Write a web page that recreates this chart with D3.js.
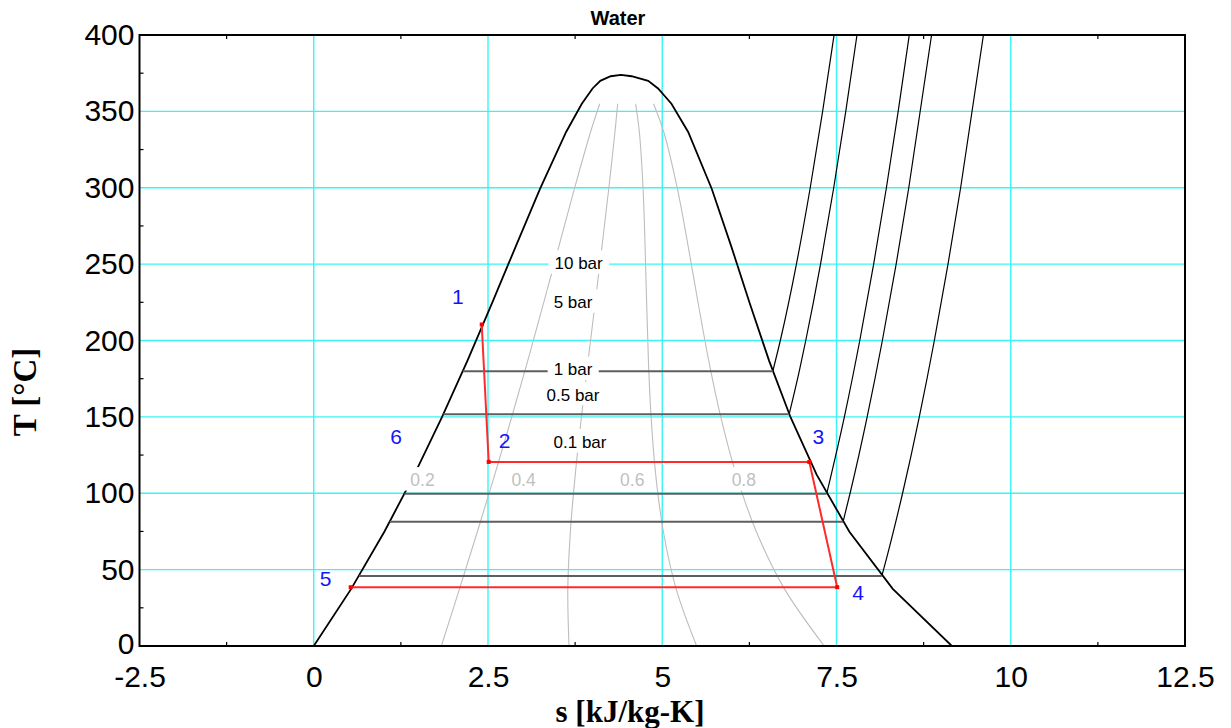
<!DOCTYPE html>
<html>
<head>
<meta charset="utf-8">
<script src="https://cdn.jsdelivr.net/npm/d3@7"></script>
<style>
  body { margin: 0; background: #fff; }
  svg { display: block; }
</style>
</head>
<body>
<svg id="chart" width="1231" height="728"></svg>
<script>
// ---- Saturation dome of water (T in °C, s in kJ/kg-K) ----
const satT  = [0.01, 37.4, 74.8, 112.2, 149.6, 187, 224.4, 261.8, 299.2, 336.5, 355, 365, 370, 373, 373.95];
const satSf = [0, 0.537, 1.013, 1.443, 1.838, 2.207, 2.558, 2.900, 3.246, 3.621, 3.846, 4.00, 4.111, 4.26, 4.407];
const satSg = [9.155, 8.307, 7.685, 7.215, 6.842, 6.531, 6.255, 5.989, 5.711, 5.372, 5.132, 4.94, 4.798, 4.56, 4.407];

// ---- Constant-pressure lines ----
const isobarNames = ["10 bar", "5 bar", "1 bar", "0.5 bar", "0.1 bar"];
const isobarTsat  = [179.9, 151.8, 99.6, 81.3, 45.8];
const isobarSf    = [2.139, 1.861, 1.303, 1.091, 0.649];
// superheated branches: temperatures and entropies from saturated vapour upward
const sh10barT  = [179.9, 200, 250, 300, 350, 400];
const sh10barS  = [6.586, 6.694, 6.925, 7.123, 7.301, 7.465];
const sh5barT   = [151.8, 180, 200, 250, 300, 350, 400];
const sh5barS   = [6.821, 6.966, 7.059, 7.271, 7.460, 7.633, 7.794];
const sh1barT   = [99.6, 150, 200, 250, 300, 350, 400];
const sh1barS   = [7.359, 7.613, 7.834, 8.033, 8.216, 8.385, 8.544];
const sh05barT  = [81.3, 100, 150, 200, 250, 300, 400];
const sh05barS  = [7.594, 7.695, 7.940, 8.158, 8.356, 8.537, 8.864];
const sh01barT  = [45.8, 50, 100, 150, 200, 250, 300, 400];
const sh01barS  = [8.150, 8.175, 8.448, 8.688, 8.904, 9.100, 9.281, 9.608];

// ---- Quality lines ----
const qualities = [0.2, 0.4, 0.6, 0.8];
const qualityTopT = 355;

// ---- Cycle state points ----
const cycleLabels = ["1", "2", "3", "4", "5"];
const cycleS = [2.41, 2.51, 7.11, 7.51, 0.53];
const cycleT = [210.5, 120.5, 120.5, 38.5, 38.5];

// ---- Axis ticks ----
const sTicks = [-2.5, 0, 2.5, 5, 7.5, 10, 12.5];
const sMinor = [-1.25, 1.25, 3.75, 6.25, 8.75, 11.25];
const tTicks = [0, 50, 100, 150, 200, 250, 300, 350, 400];
const tMinor = [25, 75, 125, 175, 225, 275, 325, 375];

// ---------------------------------------------------------------
const svg = d3.select("#chart");
const L = 139.5, R = 1185, T = 35, B = 646;
const x = d3.scaleLinear().domain([-2.5, 12.5]).range([L, R]);
const y = d3.scaleLinear().domain([0, 400]).range([B, T]);

const sans = "'Liberation Sans', Arial, sans-serif";
const serif = "'Liberation Serif', 'Times New Roman', serif";

svg.append("defs").append("clipPath").attr("id", "plotclip")
  .append("rect").attr("x", L).attr("y", T).attr("width", R - L).attr("height", B - T);

// grid
const grid = svg.append("g").attr("stroke", "#3af4f4").attr("stroke-width", 1.4);
grid.selectAll("line.v").data(sTicks.filter(v => v > -2.5 && v < 12.5)).join("line")
  .attr("x1", d => x(d)).attr("x2", d => x(d)).attr("y1", T).attr("y2", B);
grid.selectAll("line.h").data(tTicks.filter(v => v > 0 && v < 400)).join("line")
  .attr("class", "h")
  .attr("x1", L).attr("x2", R).attr("y1", d => y(d)).attr("y2", d => y(d));

const plot = svg.append("g").attr("clip-path", "url(#plotclip)");

// quality lines (lever rule on the saturation table)
const qIdx = satT.map((t, i) => i).filter(i => satT[i] <= qualityTopT);
const qualLine = d3.line().x(d => x(d[0])).y(d => y(d[1])).curve(d3.curveCatmullRom);
qualities.forEach(q => {
  const pts = qIdx.map(i => [satSf[i] + q * (satSg[i] - satSf[i]), satT[i]]);
  plot.append("path").attr("d", qualLine(pts))
    .attr("fill", "none").attr("stroke", "#bdbdbd").attr("stroke-width", 1.1);
});

// saturation dome
const domePts = satT.map((t, i) => [satSf[i], t])
  .concat(satT.map((t, i) => [satSg[i], t]).reverse());
plot.append("path")
  .attr("d", d3.line().x(d => x(d[0])).y(d => y(d[1]))(domePts))
  .attr("fill", "none").attr("stroke", "#000").attr("stroke-width", 1.8);

// superheated isobars
const shLine = d3.line().x(d => x(d[0])).y(d => y(d[1])).curve(d3.curveMonotoneX);
[[sh10barS, sh10barT], [sh5barS, sh5barT], [sh1barS, sh1barT], [sh05barS, sh05barT], [sh01barS, sh01barT]]
  .forEach(([ss, tt]) => {
    plot.append("path").attr("d", shLine(ss.map((s, i) => [s, tt[i]])))
      .attr("fill", "none").attr("stroke", "#000").attr("stroke-width", 1.2);
  });

// labels with white boxes
function boxedLabel(cx, cy, text, color, size) {
  const g = svg.append("g");
  const t = g.append("text").attr("x", cx).attr("y", cy).attr("dy", "0.35em")
    .attr("text-anchor", "middle").attr("font-family", sans).attr("font-size", size)
    .attr("fill", color).text(text);
  const bb = t.node().getBBox();
  g.insert("rect", "text").attr("x", bb.x - 6).attr("y", cy - 13)
    .attr("width", bb.width + 12).attr("height", 23.5).attr("fill", "#fff");
}
// quality labels
const qualityLabelS = [1.56, 3.01, 4.57, 6.17];
qualities.forEach((q, i) => boxedLabel(x(qualityLabelS[i]), y(108.6), String(q), "#bfbfbf", 17.5));

// isobars inside the dome (drawn over the quality label boxes)
const isoSg = [sh10barS[0], sh5barS[0], sh1barS[0], sh05barS[0], sh01barS[0]];
isobarTsat.forEach((t, i) => {
  svg.append("line")
    .attr("x1", x(isobarSf[i])).attr("x2", x(isoSg[i]))
    .attr("y1", y(t)).attr("y2", y(t))
    .attr("stroke", "#5e5e5e").attr("stroke-width", 2);
});

// pressure labels: [s, T] anchors
const isobarLabelAt = [[3.8, 250.5], [3.72, 225], [3.72, 181], [3.72, 164.5], [3.82, 133.5]];
isobarNames.forEach((n, i) => boxedLabel(x(isobarLabelAt[i][0]), y(isobarLabelAt[i][1]), n, "#000", 17));

// cycle
const cyc = cycleS.map((s, i) => [s, cycleT[i]]);
svg.append("path").attr("d", d3.line().x(d => x(d[0])).y(d => y(d[1]))(cyc))
  .attr("fill", "none").attr("stroke", "#ff2b2b").attr("stroke-width", 2);
svg.selectAll("rect.pt").data(cyc).join("rect").attr("class", "pt")
  .attr("x", d => x(d[0]) - 2).attr("y", d => y(d[1]) - 2)
  .attr("width", 4).attr("height", 4).attr("fill", "#ff0000");

// state numbers (pixel offsets from each point)
const numOffsets = [[-24, -28], [16, -21], [9, -25], [21, 5], [-25, -9]];
cycleLabels.forEach((lab, i) => {
  svg.append("text").attr("x", x(cycleS[i]) + numOffsets[i][0]).attr("y", y(cycleT[i]) + numOffsets[i][1])
    .attr("dy", "0.35em").attr("text-anchor", "middle")
    .attr("font-family", sans).attr("font-size", 21).attr("fill", "#1414ff").text(lab);
});
svg.append("text").attr("x", x(1.18)).attr("y", y(136.8)).attr("dy", "0.35em")
  .attr("text-anchor", "middle").attr("font-family", sans).attr("font-size", 21)
  .attr("fill", "#1414ff").text("6");

// minor ticks
const mt = svg.append("g").attr("stroke", "#000").attr("stroke-width", 1.2);
sMinor.forEach(s => {
  mt.append("line").attr("x1", x(s)).attr("x2", x(s)).attr("y1", B).attr("y2", B - 4);
  mt.append("line").attr("x1", x(s)).attr("x2", x(s)).attr("y1", T).attr("y2", T + 4);
});
tMinor.forEach(t => {
  mt.append("line").attr("x1", L).attr("x2", L + 4).attr("y1", y(t)).attr("y2", y(t));
});

// frame
svg.append("rect").attr("x", L).attr("y", T).attr("width", R - L).attr("height", B - T)
  .attr("fill", "none").attr("stroke", "#000").attr("stroke-width", 2);

// axes
const fmt = d => String(d);
const xAxis = svg.append("g").attr("transform", `translate(0,${B})`)
  .call(d3.axisBottom(x).tickValues(sTicks).tickFormat(fmt).tickSize(0).tickPadding(20));
const yAxis = svg.append("g").attr("transform", `translate(${L},0)`)
  .call(d3.axisLeft(y).tickValues(tTicks).tickFormat(fmt).tickSize(0).tickPadding(5));
[xAxis, yAxis].forEach(a => {
  a.select(".domain").remove();
  a.selectAll("text").attr("font-family", sans).attr("font-size", 30).attr("fill", "#000");
});
// lift the bottom temperature label a touch so it clears the "-2.5" label
yAxis.selectAll(".tick text").filter(d => d === 0).attr("dy", "0.24em");

// titles
svg.append("text").attr("x", 618).attr("y", 25).attr("text-anchor", "middle")
  .attr("font-family", sans).attr("font-weight", "bold").attr("font-size", 20).text("Water");
svg.append("text").attr("x", 630).attr("y", 721.5).attr("text-anchor", "middle")
  .attr("font-family", serif).attr("font-weight", "bold").attr("font-size", 31).text("s [kJ/kg-K]");
svg.append("text").attr("transform", "translate(36,392) rotate(-90)").attr("text-anchor", "middle")
  .attr("font-family", serif).attr("font-weight", "bold").attr("font-size", 33).text("T [°C]");
</script>
</body>
</html>
